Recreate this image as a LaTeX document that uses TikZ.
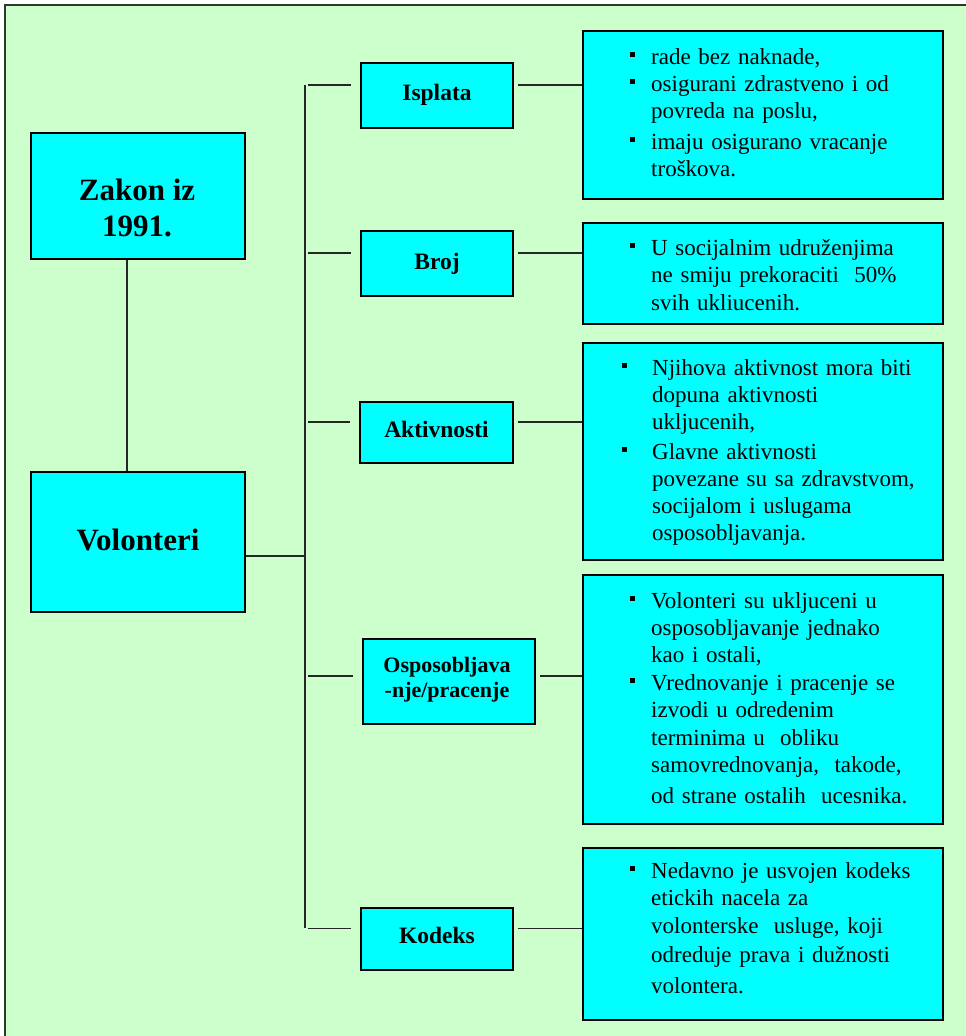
\documentclass[tikz,border=0pt]{standalone}
\usepackage{fontspec}
\setmainfont{Liberation Serif}
\definecolor{bggreen}{HTML}{CCFFCC}
\definecolor{boxcyan}{HTML}{00FFFF}
\tikzset{
  box/.style={draw=black, fill=boxcyan, line width=1.9pt, inner sep=0pt, rectangle},
  hdr/.style={font=\bfseries\fontsize{23.5}{27}\selectfont},
  link/.style={line width=1.9pt, draw=black!85},
  body/.style={font=\fontsize{23}{27}\selectfont, inner sep=0pt, anchor=north west,
               text width=292pt, align=left},
}
% square bullet hanging left of the text column
\newcommand{\bul}[1][16pt]{\makebox[0pt][r]{\rule[7pt]{5.5pt}{5.5pt}\hspace{#1}}}
\newcommand{\firststrut}{\rule{0pt}{20pt}}
\begin{document}
\begin{tikzpicture}[x=1pt,y=-1pt]
\useasboundingbox (0,0) rectangle (966,1036);
% background panel
\fill[bggreen] (5,5) rectangle (966,1036);
\draw[line width=2pt, black!80] (5,1036) -- (5,5) -- (966,5);

% left column
\node[box, minimum width=214pt, minimum height=126pt] (zakon) at (138,196) {};
\node[font=\bfseries\fontsize{31}{36}\selectfont, align=center, inner sep=0pt, anchor=north]
  (zakonT) at (137,174) {\rule{0pt}{26pt}Zakon iz\\1991.};
\node[box, minimum width=214pt, minimum height=140pt, text height=78pt, text depth=62pt,
      font=\bfseries\fontsize{31}{36}\selectfont] (vol) at (138,542) {Volonteri};

% middle column
\node[box, hdr, minimum width=152pt, minimum height=65pt, text height=37pt, text depth=28pt]
  (isplata) at (437,95.5) {Isplata};
\node[box, hdr, minimum width=152pt, minimum height=65pt, text height=38pt, text depth=27pt]
  (broj) at (437,263.5) {Broj};
\node[box, hdr, minimum width=153pt, minimum height=61pt, text height=35pt, text depth=26pt]
  (akt) at (436.5,432.5) {Aktivnosti};
\node[box, minimum width=172pt, minimum height=85pt] (osp) at (449,681.5) {};
\node[font=\bfseries\fontsize{22}{25}\selectfont, align=center, inner sep=0pt, anchor=north]
  (ospT) at (447,652) {\firststrut Osposobljava\\-nje/pracenje};
\node[box, hdr, minimum width=152pt, minimum height=62pt, text height=35pt, text depth=27pt]
  (kod) at (437,939) {Kodeks};

% right column
\node[box, minimum width=360pt, minimum height=168pt] (r1) at (763,115) {};
\node[box, minimum width=360pt, minimum height=101pt] (r2) at (763,273.5) {};
\node[box, minimum width=360pt, minimum height=217pt] (r3) at (763,451.5) {};
\node[box, minimum width=360pt, minimum height=249pt] (r4) at (763,699.5) {};
\node[box, minimum width=360pt, minimum height=172pt] (r5) at (763,934) {};

\node[body] (r1T) at (651,44) {\firststrut\bul rade bez naknade,\\
  \bul osigurani zdrastveno i od\\
  povreda na poslu,\\[4pt]
  \bul imaju osigurano vracanje\\
  troškova.};
\node[body] (r2T) at (651,235) {\firststrut\bul U socijalnim udruženjima\\
  ne smiju prekoraciti\ \ 50\%\\[1pt]
  svih ukliucenih.};
\node[body] (r3T) at (652,355) {\firststrut\bul[25pt]Njihova aktivnost mora biti\\
  dopuna aktivnosti\\
  ukljucenih,\\[3pt]
  \bul[25pt]Glavne aktivnosti\\
  povezane su sa zdravstvom,\\
  socijalom i uslugama\\
  osposobljavanja.};
\node[body] (r4T) at (651,588) {\firststrut\bul Volonteri su ukljuceni u\\
  osposobljavanje jednako\\
  kao i ostali,\\[1pt]
  \bul Vrednovanje i pracenje se\\
  izvodi u odredenim\\[1pt]
  terminima u\ \ obliku\\
  samovrednovanja,\ \ takode,\\[4pt]
  od strane ostalih\ \ ucesnika.};
\node[body] (r5T) at (651,858) {\firststrut\bul Nedavno je usvojen kodeks\\
  etickih nacela za\\[1pt]
  volonterske\ \ usluge, koji\\[2pt]
  odreduje prava i dužnosti\\[4pt]
  volontera.};

% connectors
\coordinate (busT) at (305,85);
\coordinate (busB) at (305,928);
\draw[link] (busT) -- (busB);
\draw[link] ([xshift=-11pt]zakon.south) -- ([xshift=-11pt]vol.north);
\draw[link] ([yshift=-14pt]vol.east) -- ([yshift=-14pt]vol.east -| busT);

\foreach \h/\r/\dy in {isplata/r1/10.5, broj/r2/10.5, akt/r3/10.5, osp/r4/5.5, kod/r5/10.5}{
  \draw[link] ([xshift=-9pt,yshift=\dy pt]\h.west) -- ([xshift=3pt,yshift=\dy pt]\h.west -| busT);
  \draw[link] ([xshift=4pt,yshift=\dy pt]\h.east) -- ([yshift=\dy pt]\h.east -| \r.west);
}
\end{tikzpicture}
\end{document}
